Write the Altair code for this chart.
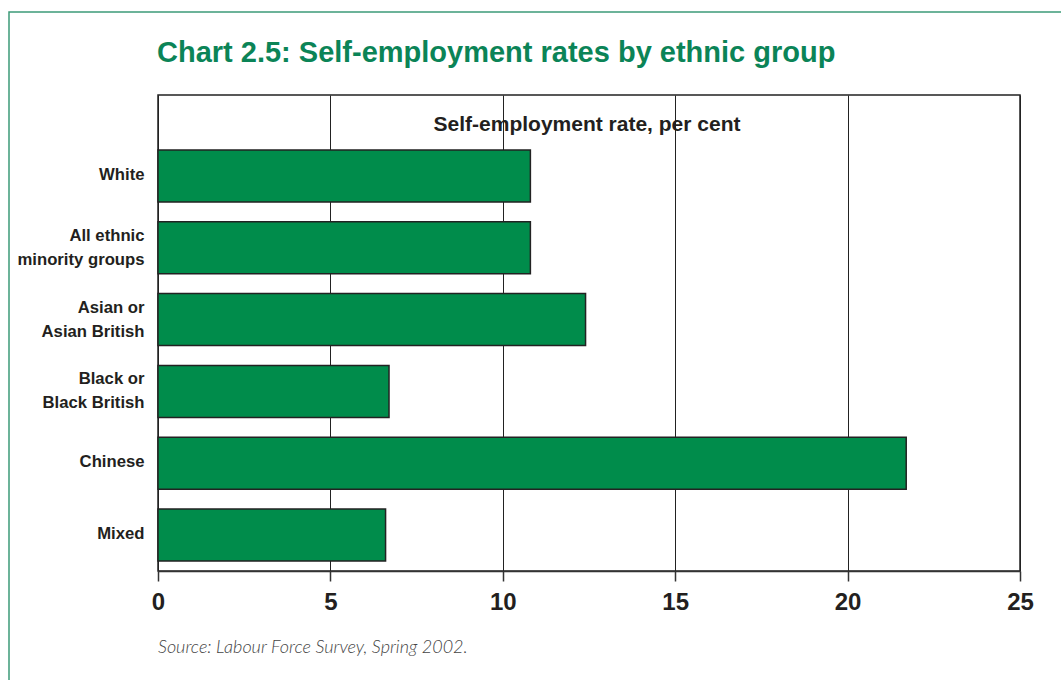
import altair as alt
import pandas as pd

categories = ["White", "All ethnic|minority groups", "Asian or|Asian British",
              "Black or|Black British", "Chinese", "Mixed"]
rates = [10.8, 10.8, 12.4, 6.7, 21.7, 6.6]
x_ticks = [0, 5, 10, 15, 20, 25]

title_text = "Chart 2.5: Self-employment rates by ethnic group"
axis_label = "Self-employment rate, per cent"
source_text = "Source: Labour Force Survey, Spring 2002."

W, H = 862, 476
FONT = "Liberation Sans, Arial, sans-serif"
GREEN = "#008c4b"
TITLE_GREEN = "#0b8457"

df = pd.DataFrame({"group": categories, "rate": rates})

bars = alt.Chart(df).mark_bar(
    color=GREEN, stroke="#222222", strokeWidth=1.5
).encode(
    x=alt.X("rate:Q",
            scale=alt.Scale(domain=[0, 25], nice=False, zero=True),
            axis=alt.Axis(values=x_ticks, title=None, grid=True,
                          gridColor="#222222", gridWidth=1,
                          domain=True, domainColor="#333333", domainWidth=1.5,
                          ticks=True, tickSize=10, tickColor="#333333", tickWidth=1.5,
                          labelFont=FONT, labelFontSize=24, labelFontWeight="bold",
                          labelColor="#231f20", labelPadding=9, labelFlush=False)),
    y=alt.Y("group:N", sort=categories,
            scale=alt.Scale(domain=categories, paddingInner=0.276,
                            paddingOuter=0.453, align=0.846),
            axis=alt.Axis(title=None, domain=False, ticks=False, grid=False,
                          labelExpr="split(datum.label, '|')",
                          labelFont=FONT, labelFontSize=16.7, labelFontWeight="bold",
                          labelColor="#231f20", labelPadding=14,
                          labelLineHeight=24, labelLimit=300,
                          labelOffset={"condition": {"test": "indexof(datum.value, '|') >= 0",
                                                     "value": -12},
                                       "value": -1}))
)

def text_layer(txt, **kw):
    pos = {k: kw.pop(k) for k in ["px", "py"]}
    return alt.Chart(pd.DataFrame({"t": [txt]})).mark_text(**kw).encode(
        text="t:N", x=alt.value(pos["px"]), y=alt.value(pos["py"]))

title = text_layer(title_text, px=-1, py=-33, align="left", baseline="alphabetic",
                   font=FONT, fontSize=29, fontWeight="bold", color=TITLE_GREEN)
label = text_layer(axis_label, px=429, py=36, align="center", baseline="alphabetic",
                   font=FONT, fontSize=21, fontWeight="bold", color="#231f20")
source = text_layer(source_text, px=0, py=558, align="left", baseline="alphabetic",
                    font="Lato, sans-serif", fontSize=18, fontStyle="italic",
                    fontWeight=300, color="#444444")

border = alt.Chart(pd.DataFrame({"a": [0]})).mark_rect(
    fill=None, stroke="#3d9a78", strokeWidth=1.5
).encode(x=alt.value(-149), x2=alt.value(W + 60), y=alt.value(-83), y2=alt.value(H + 150))

chart = alt.layer(bars, label, title, source, border).properties(
    width=W, height=H,
    autosize=alt.AutoSizeParams(type="none"),
    padding={"left": 158, "top": 95, "right": 1061 - 158 - W, "bottom": 680 - 95 - H},
    background="white"
).configure_view(stroke="#222222", strokeWidth=1.5)

chart.save("out.html", embed_options={"renderer": "svg", "actions": False})
